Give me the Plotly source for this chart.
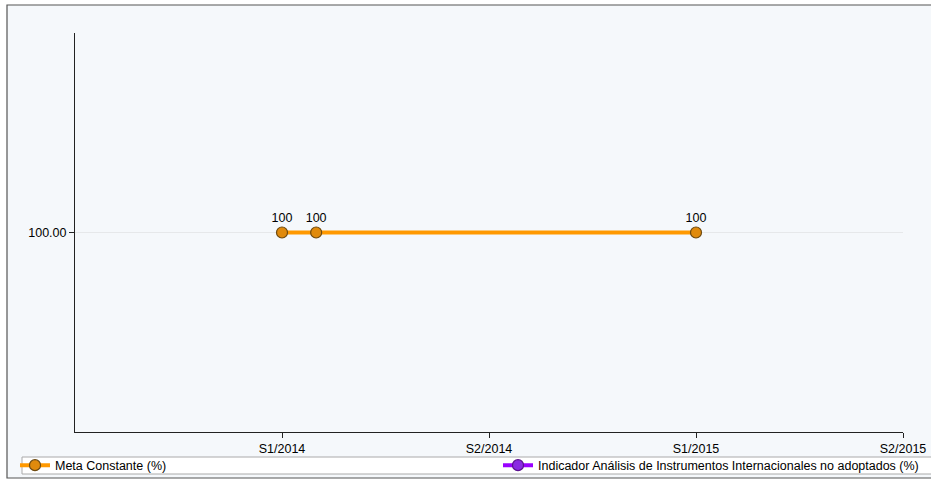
import plotly.graph_objects as go

# Data
categories = ["S1/2014", "S2/2014", "S1/2015", "S2/2015"]
tick_positions = [1, 2, 3, 4]
meta_x = [1.0, 1.165, 3.0]
meta_y = [100, 100, 100]
meta_labels = ["100", "100", "100"]
indicador_x = [None]
indicador_y = [None]

W, H = 931, 481
L, R, T, B = 75, 28, 33, 49
pw, ph = W - L - R, H - T - B
FS = 12.5

def px(x):
    return (x - L) / pw

def py(y):
    return (H - B - y) / ph

fig = go.Figure()
fig.add_trace(go.Scatter(
    x=meta_x, y=meta_y, mode="lines+markers+text",
    name="Meta Constante (%)",
    text=meta_labels, textposition="top center",
    textfont=dict(family="Liberation Sans, Arial", size=FS, color="black"),
    line=dict(color="#ff9900", width=4),
    marker=dict(size=11, color="#e08a0c", line=dict(color="#6e4a10", width=1.2)),
    legend="legend", cliponaxis=False,
))
fig.add_trace(go.Scatter(
    x=indicador_x, y=indicador_y, mode="lines+markers",
    name="Indicador Análisis de Instrumentos Internacionales no adoptados (%)",
    line=dict(color="#9900ff", width=4),
    marker=dict(size=11, color="#8a2be2", line=dict(color="#5a1090", width=1.2)),
    legend="legend2",
))

shapes = [
    # outer frame
    dict(type="rect", xref="paper", yref="paper",
         x0=px(7), x1=px(940), y0=py(478), y1=py(5),
         line=dict(color="#555", width=1.2), fillcolor="#f5f8fb", layer="below"),
    # legend box
    dict(type="rect", xref="paper", yref="paper",
         x0=px(22), x1=px(940), y0=py(474), y1=py(457),
         line=dict(color="#aaa", width=1), fillcolor="white", layer="below"),
]

fig.update_layout(
    width=W, height=H,
    margin=dict(l=L, r=R, t=T, b=B, autoexpand=False),
    paper_bgcolor="white", plot_bgcolor="rgba(0,0,0,0)",
    font=dict(family="Liberation Sans, Arial", size=FS, color="black"),
    shapes=shapes,
    xaxis=dict(range=[0, 4], tickvals=tick_positions, ticktext=categories,
               showgrid=False, zeroline=False, showline=True, linecolor="#222",
               linewidth=1, ticks="outside", ticklen=5, tickcolor="#222",
               tickfont=dict(size=FS), automargin=False),
    yaxis=dict(range=[99, 101], tickvals=[100], ticktext=["100.00"],
               showgrid=True, gridcolor="#e6e8ea", zeroline=False, showline=True,
               linecolor="#222", linewidth=1, ticks="outside", ticklen=5,
               tickcolor="#222", tickfont=dict(size=FS), automargin=False),
    legend=dict(x=px(15), y=py(465.5), xanchor="left", yanchor="middle",
                bgcolor="rgba(0,0,0,0)", font=dict(size=FS), itemwidth=30,
                tracegroupgap=0),
    legend2=dict(x=px(924), y=py(465.5), xanchor="right", yanchor="middle",
                 bgcolor="rgba(0,0,0,0)", font=dict(size=FS), itemwidth=30),
    showlegend=True,
)

fig.write_html("out.html")
